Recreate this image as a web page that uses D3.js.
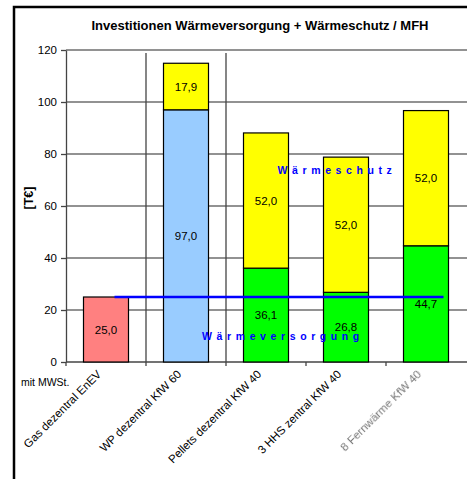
<!DOCTYPE html>
<html>
<head>
<meta charset="utf-8">
<script src="https://cdn.jsdelivr.net/npm/d3@7/dist/d3.min.js"></script>
<style>
body { margin: 0; background: #fff; }
svg { display: block; font-family: "Liberation Sans", Arial, sans-serif; }
</style>
</head>
<body>
<svg id="chart" width="467" height="479"></svg>
<script>
// data
var categories = ["Gas dezentral EnEV", "WP dezentral KfW 60", "Pellets dezentral KfW 40", "3 HHS zentral KfW 40", "8 Fernwärme KfW 40"];
var versorgung = [25.0, 97.0, 36.1, 26.8, 44.7];   // Wärmeversorgung (bottom)
var schutz = [0, 17.9, 52.0, 52.0, 52.0];          // Wärmeschutz (top)
var baseColors = ["#FF8080", "#99CCFF", "#00FF00", "#00FF00", "#00FF00"];
var yTicks = [0, 20, 40, 60, 80, 100, 120];
var refLine = 25;   // blue reference line

var svg = d3.select("#chart");

var defs = svg.append("defs");
defs.append("filter").attr("id", "blur")
	.append("feGaussianBlur").attr("stdDeviation", 0.7);

// outer frame (runs off the right and bottom edge)
svg.append("rect")
	.attr("x", 14).attr("y", 7)
	.attr("width", 600).attr("height", 600)
	.style("fill", "none").style("stroke", "#000").style("stroke-width", 2.5);

var xScale = d3.scaleBand().domain(categories).range([66, 466])
	.paddingInner(0.4375).paddingOuter(0.21875);
var yScale = d3.scaleLinear().domain([0, 120]).range([362, 50]);
var step = xScale.step();
function bandStart(d){ return xScale(d) - xScale.paddingOuter() * step; }

var plot = svg.append("g");

// horizontal grid
plot.append("g").selectAll("line").data(yTicks.slice(1)).enter().append("line")
	.attr("x1", 66).attr("x2", 467)
	.attr("y1", function(d){ return yScale(d); })
	.attr("y2", function(d){ return yScale(d); })
	.style("stroke", "#6e6e6e").style("stroke-width", 1.3);

// two vertical separators
plot.append("g").selectAll("line").data([categories[0], categories[1]]).enter().append("line")
	.attr("x1", function(d){ return bandStart(d) + step; })
	.attr("x2", function(d){ return bandStart(d) + step; })
	.attr("y1", yScale(120) + 3).attr("y2", yScale(0))
	.style("stroke", "#444").style("stroke-width", 1.3);

// y axis
var yAxis = d3.axisLeft(yScale).tickValues(yTicks).tickSize(5).tickSizeOuter(0).tickPadding(4);
var ya = plot.append("g").attr("transform", "translate(66,0)").call(yAxis);
ya.select(".domain").style("stroke", "#444").style("stroke-width", 1.3);
ya.selectAll(".tick line").style("stroke", "#444").style("stroke-width", 1.3);
ya.selectAll("text").style("font-size", "11.5px").style("fill", "#000")
	.style("font-family", "'Liberation Sans', Arial, sans-serif");

// x axis
var xAxis = d3.axisBottom(xScale).tickSize(0).tickSizeOuter(0).tickFormat("");
var xa = plot.append("g").attr("transform", "translate(0,362)").call(xAxis);
xa.select(".domain").attr("d", "M66,0H467").style("stroke", "#444").style("stroke-width", 1.5);
plot.append("g").selectAll("line").data(categories).enter().append("line")
	.attr("x1", bandStart).attr("x2", bandStart)
	.attr("y1", 362).attr("y2", 366)
	.style("stroke", "#444").style("stroke-width", 1.3);

// rotated category labels
plot.append("g").selectAll("text").data(categories).enter().append("text")
	.attr("transform", function(d){
		var cx = xScale(d) + xScale.bandwidth() / 2 - 4;
		return "translate(" + cx + ",375) rotate(-45)";
	})
	.attr("text-anchor", "end")
	.style("font-size", "11.5px")
	.style("fill", function(d, i){ return i == 4 ? "#777" : "#000"; })
	.attr("filter", function(d, i){ return i == 4 ? "url(#blur)" : null; })
	.text(function(d){ return d; });

var stacks = categories.map(function(c, i){
	return { cat: c, base: versorgung[i], top: schutz[i], color: baseColors[i] };
});

// bars: bottom segment
plot.append("g").selectAll("rect").data(stacks).enter().append("rect")
	.attr("x", function(d){ return xScale(d.cat); })
	.attr("width", xScale.bandwidth())
	.attr("y", function(d){ return yScale(d.base); })
	.attr("height", function(d){ return yScale(0) - yScale(d.base); })
	.style("fill", function(d){ return d.color; })
	.style("stroke", "#000").style("stroke-width", 1.2);

// bars: top segment
var tops = stacks.filter(function(d){ return d.top > 0; });
plot.append("g").selectAll("rect").data(tops).enter().append("rect")
	.attr("x", function(d){ return xScale(d.cat); })
	.attr("width", xScale.bandwidth())
	.attr("y", function(d){ return yScale(d.base + d.top); })
	.attr("height", function(d){ return yScale(d.base) - yScale(d.base + d.top); })
	.style("fill", "#FFFF00")
	.style("stroke", "#000").style("stroke-width", 1.2);

function fmt(v){ return v.toFixed(1).replace(".", ","); }

// value labels
plot.append("g").selectAll("text").data(stacks).enter().append("text")
	.attr("x", function(d){ return xScale(d.cat) + xScale.bandwidth() / 2; })
	.attr("y", function(d){ return yScale(d.base / 2) + 4; })
	.attr("text-anchor", "middle").style("font-size", "11.5px")
	.text(function(d){ return fmt(d.base); });

plot.append("g").selectAll("text").data(tops).enter().append("text")
	.attr("x", function(d){ return xScale(d.cat) + xScale.bandwidth() / 2; })
	.attr("y", function(d){ return yScale(d.base + d.top / 2) + 4; })
	.attr("text-anchor", "middle").style("font-size", "11.5px")
	.text(function(d){ return fmt(d.top); });

// blue reference line
plot.append("line")
	.attr("x1", xScale(categories[0]) + 31).attr("x2", xScale(categories[4]) + 40)
	.attr("y1", yScale(refLine)).attr("y2", yScale(refLine))
	.style("stroke", "#0000FF").style("stroke-width", 2.5);

// series annotations
svg.append("text")
	.attr("x", 337).attr("y", 174)
	.attr("text-anchor", "middle")
	.style("font-size", "10.5px").style("font-weight", "bold")
	.style("letter-spacing", "4.6px").style("fill", "#0000FF")
	.text("Wärmeschutz");

svg.append("text")
	.attr("x", 283).attr("y", 340)
	.attr("text-anchor", "middle")
	.style("font-size", "10.5px").style("font-weight", "bold")
	.style("letter-spacing", "4.6px").style("fill", "#0000FF")
	.text("Wärmeversorgung");

// title and axis label
svg.append("text")
	.attr("x", 260).attr("y", 30)
	.attr("text-anchor", "middle")
	.style("font-size", "13px").style("font-weight", "bold")
	.text("Investitionen Wärmeversorgung + Wärmeschutz / MFH");

svg.append("text")
	.attr("transform", "translate(33,198) rotate(-90)")
	.attr("text-anchor", "middle")
	.style("font-size", "12.5px").style("font-weight", "bold")
	.text("[T€]");

svg.append("text")
	.attr("x", 21).attr("y", 386)
	.style("font-size", "10.5px")
	.text("mit MWSt.");
</script>
</body>
</html>
